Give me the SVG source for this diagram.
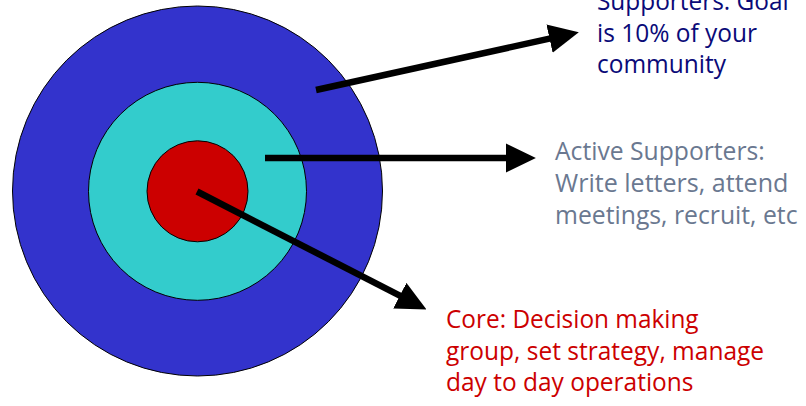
<svg xmlns="http://www.w3.org/2000/svg" width="806" height="406" viewBox="0 0 806 406">
<style>
.ring{stroke:#000;stroke-width:1}
.conn{stroke:#000;stroke-width:6.5;fill:none}
.lbl{font-family:"Open Sans","Liberation Sans",sans-serif;font-size:25px}
.blue{fill:#0a0a78}
.slate{fill:#6a7890}
.red{fill:#cc0000}
</style>
<defs>
<marker id="ah" markerUnits="userSpaceOnUse" markerWidth="30" markerHeight="30" viewBox="0 -13 27 26" refX="1" refY="0" orient="auto">
<path d="M0,-13 L27,0 L0,13 Z" fill="#000"/>
</marker>
</defs>
<rect width="806" height="406" fill="#fff"/>
<g id="outer-ring"><circle class="ring" cx="197.5" cy="191" r="185" fill="#3333cc"/></g>
<g id="middle-ring"><circle class="ring" cx="197.5" cy="191.3" r="109" fill="#33cccc"/></g>
<g id="core"><circle class="ring" cx="197.5" cy="191.3" r="50.5" fill="#cc0000"/></g>
<g id="connectors">
<line class="conn" x1="316" y1="90" x2="550.6" y2="38.4" marker-end="url(#ah)"/>
<line class="conn" x1="265" y1="158" x2="507" y2="158" marker-end="url(#ah)"/>
<line class="conn" x1="197" y1="191.5" x2="400.8" y2="296.2" marker-end="url(#ah)"/>
</g>
<g id="label-supporters" class="lbl blue">
<text x="597" y="10" textLength="191.6" lengthAdjust="spacingAndGlyphs">Supporters: Goal</text>
<text x="597" y="42" textLength="160" lengthAdjust="spacingAndGlyphs">is 10% of your</text>
<text x="597" y="73" textLength="129" lengthAdjust="spacingAndGlyphs">community</text>
</g>
<g id="label-active" class="lbl slate">
<text x="555" y="160" textLength="209.8" lengthAdjust="spacingAndGlyphs">Active Supporters:</text>
<text x="555" y="192" textLength="233.4" lengthAdjust="spacingAndGlyphs">Write letters, attend</text>
<text x="555" y="224" textLength="242.5" lengthAdjust="spacingAndGlyphs">meetings, recruit, etc</text>
</g>
<g id="label-core" class="lbl red">
<text x="446" y="328" textLength="252.6" lengthAdjust="spacingAndGlyphs">Core: Decision making</text>
<text x="446" y="360" textLength="318.1" lengthAdjust="spacingAndGlyphs">group, set strategy, manage</text>
<text x="446" y="391" textLength="247.5" lengthAdjust="spacingAndGlyphs">day to day operations</text>
</g>
</svg>
